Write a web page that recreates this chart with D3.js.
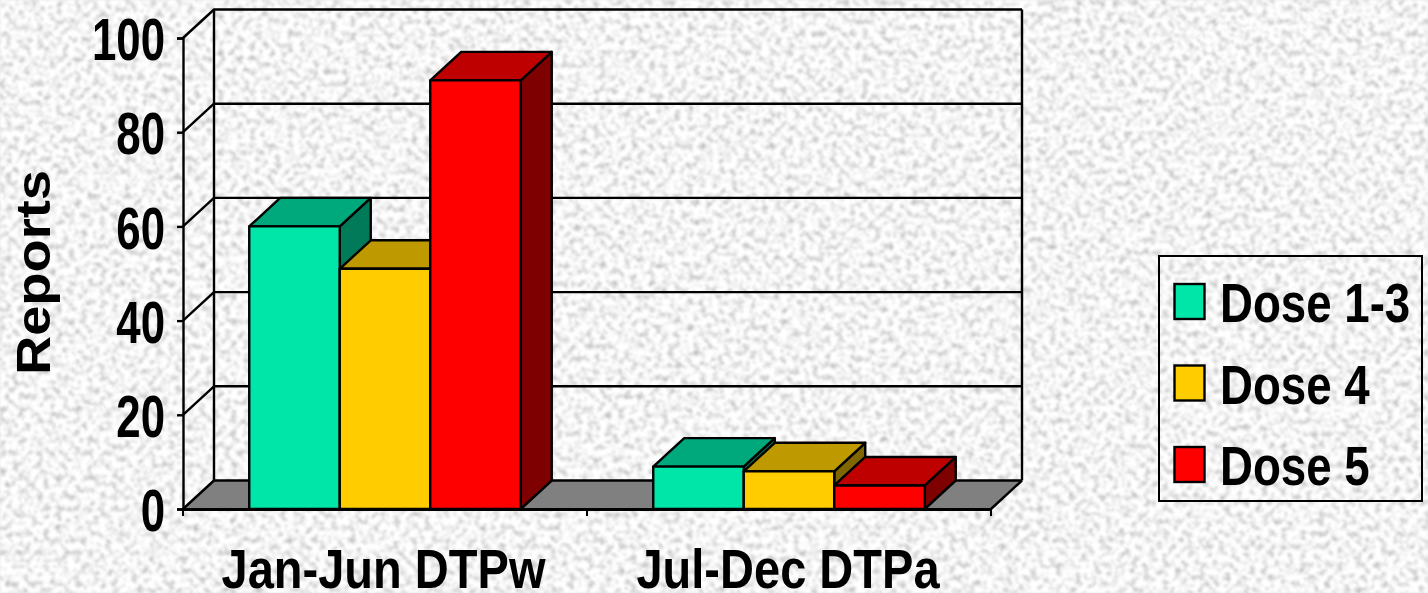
<!DOCTYPE html>
<html><head><meta charset="utf-8">
<script src="https://cdn.jsdelivr.net/npm/d3@7/dist/d3.min.js"></script>
<style>html,body{margin:0;padding:0;background:#e6e6e6;overflow:hidden}
text{font-family:"Liberation Sans",Arial,sans-serif;font-weight:bold;fill:#000}</style>
</head><body><svg id="c" width="1428" height="593"></svg>
<script>
const categories = ["Jan-Jun DTPw", "Jul-Dec DTPa"];
const seriesNames = ["Dose 1-3", "Dose 4", "Dose 5"];
const dose13 = [60, 9];
const dose4 = [51, 8];
const dose5 = [91, 5];
const yTicks = [0, 20, 40, 60, 80, 100];
const faceColors = ["#00E6A8", "#FFCC00", "#FF0000"];
const topColors = ["#00A97C", "#BF9900", "#BF0000"];
const sideColors = ["#007A58", "#7F6600", "#7F0000"];
const seriesValues = [dose13, dose4, dose5];

const svg = d3.select("#c");
const defs = svg.append("defs");
const f = defs.append("filter").attr("id", "paper").attr("x", 0).attr("y", 0).attr("width", "100%").attr("height", "100%")
  .attr("color-interpolation-filters", "sRGB");
f.append("feTurbulence").attr("type", "fractalNoise").attr("baseFrequency", 0.16).attr("numOctaves", 4).attr("seed", 7);
f.append("feColorMatrix").attr("type", "matrix").attr("values",
  "0.6 0 0 0 0.66  0.6 0 0 0 0.66  0.6 0 0 0 0.66  0 0 0 0 1");
f.append("feGaussianBlur").attr("stdDeviation", 0.8);
svg.append("rect").attr("width", 1428).attr("height", 593).attr("filter", "url(#paper)");

const dx = 31, dy = -28.5;
const x = d3.scaleBand().domain(categories).range([183, 991]);
const y = d3.scaleLinear().domain([0, 100]).range([509, 38]);
const inner = d3.scaleBand().domain(seriesNames).range([0, x.bandwidth()]).paddingOuter(0.732).paddingInner(0);
const x0 = x.range()[0], x1 = x.range()[1];
const ink = g => g.attr("stroke", "#000").attr("stroke-width", 2.4).attr("stroke-linejoin", "round");

// floor, back wall, gridlines
svg.append("path").attr("fill", "#808080")
  .attr("d", d3.line()([[x0, y(0)], [x0 + dx, y(0) + dy], [x1 + dx, y(0) + dy], [x1, y(0)]]) + "Z");
const wall = svg.append("g").attr("fill", "none").call(ink);
yTicks.forEach(t => {
  wall.append("path").attr("d", d3.line()([[x0, y(t)], [x0 + dx, y(t) + dy], [x1 + dx, y(t) + dy]]));
});
wall.append("line").attr("x1", x0 + dx).attr("x2", x0 + dx).attr("y1", y(0) + dy).attr("y2", y(100) + dy);
wall.append("line").attr("x1", x1 + dx).attr("x2", x1 + dx).attr("y1", y(0) + dy).attr("y2", y(100) + dy);
wall.append("line").attr("x1", x1).attr("x2", x1 + dx).attr("y1", y(0)).attr("y2", y(0) + dy);

// bars
categories.forEach((c, ci) => {
  seriesNames.forEach((s, si) => {
    const v = seriesValues[si][ci];
    const l = x(c) + inner(s), r = l + inner.bandwidth(), t = y(v), b = y(0);
    const g = svg.append("g").call(ink);
    g.append("path").attr("fill", sideColors[si])
      .attr("d", d3.line()([[r, t], [r + dx, t + dy], [r + dx, b + dy], [r, b]]) + "Z");
    g.append("path").attr("fill", topColors[si])
      .attr("d", d3.line()([[l, t], [l + dx, t + dy], [r + dx, t + dy], [r, t]]) + "Z");
    g.append("rect").attr("x", l).attr("y", t).attr("width", r - l).attr("height", b - t).attr("fill", faceColors[si]);
  });
});

// value axis
const yAxis = svg.append("g").attr("transform", `translate(${x0},0)`)
  .call(d3.axisLeft(y).tickValues(yTicks).tickSize(6).tickPadding(6));
yAxis.selectAll("path,line").attr("stroke", "#000").attr("stroke-width", 2.4);
yAxis.selectAll("text").attr("font-size", 60).attr("font-family", null).attr("x", 0).attr("dy", "0.36em")
  .attr("transform", "translate(-18,0) scale(0.73,1)");

// category axis
const xAxis = svg.append("g").attr("transform", `translate(0,${y(0)})`)
  .call(d3.axisBottom(x).tickSize(0).tickPadding(0));
xAxis.select(".domain").attr("stroke", "#000").attr("stroke-width", 3);
xAxis.selectAll("text").attr("font-size", 56).attr("font-family", null).attr("y", 0).attr("dy", 79)
  .attr("transform", "scale(0.84,1)");
xAxis.selectAll(".tick").attr("transform", d => `translate(${x(d) + x.bandwidth() / 2 - (d === categories[0] ? 1.5 : 1)},0)`);
svg.append("g").selectAll("line").data([...categories.map(c => x(c)), x1]).join("line")
  .attr("x1", d => d).attr("x2", d => d).attr("y1", y(0)).attr("y2", y(0) + 7)
  .attr("stroke", "#000").attr("stroke-width", 2);

// axis title
svg.append("text").attr("transform", "translate(50,272.5) rotate(-90)").attr("text-anchor", "middle")
  .attr("font-size", 48).attr("textLength", 205).attr("lengthAdjust", "spacingAndGlyphs").text("Reports");

// legend
const legend = svg.append("g");
legend.append("rect").attr("x", 1159).attr("y", 256).attr("width", 263).attr("height", 245)
  .attr("fill", "none").attr("stroke", "#000").attr("stroke-width", 2);
const ly = d3.scalePoint().domain(seriesNames).range([302, 465]);
const items = legend.selectAll("g").data(seriesNames).join("g").attr("transform", d => `translate(0,${ly(d)})`);
items.append("rect").attr("x", 1174.5).attr("y", -18).attr("width", 30).attr("height", 35)
  .attr("fill", (d, i) => faceColors[i]).attr("stroke", "#000").attr("stroke-width", 2.4);
items.append("text").attr("transform", "translate(1220,20) scale(0.815,1)").attr("font-size", 56).text(d => d);
</script></body></html>
